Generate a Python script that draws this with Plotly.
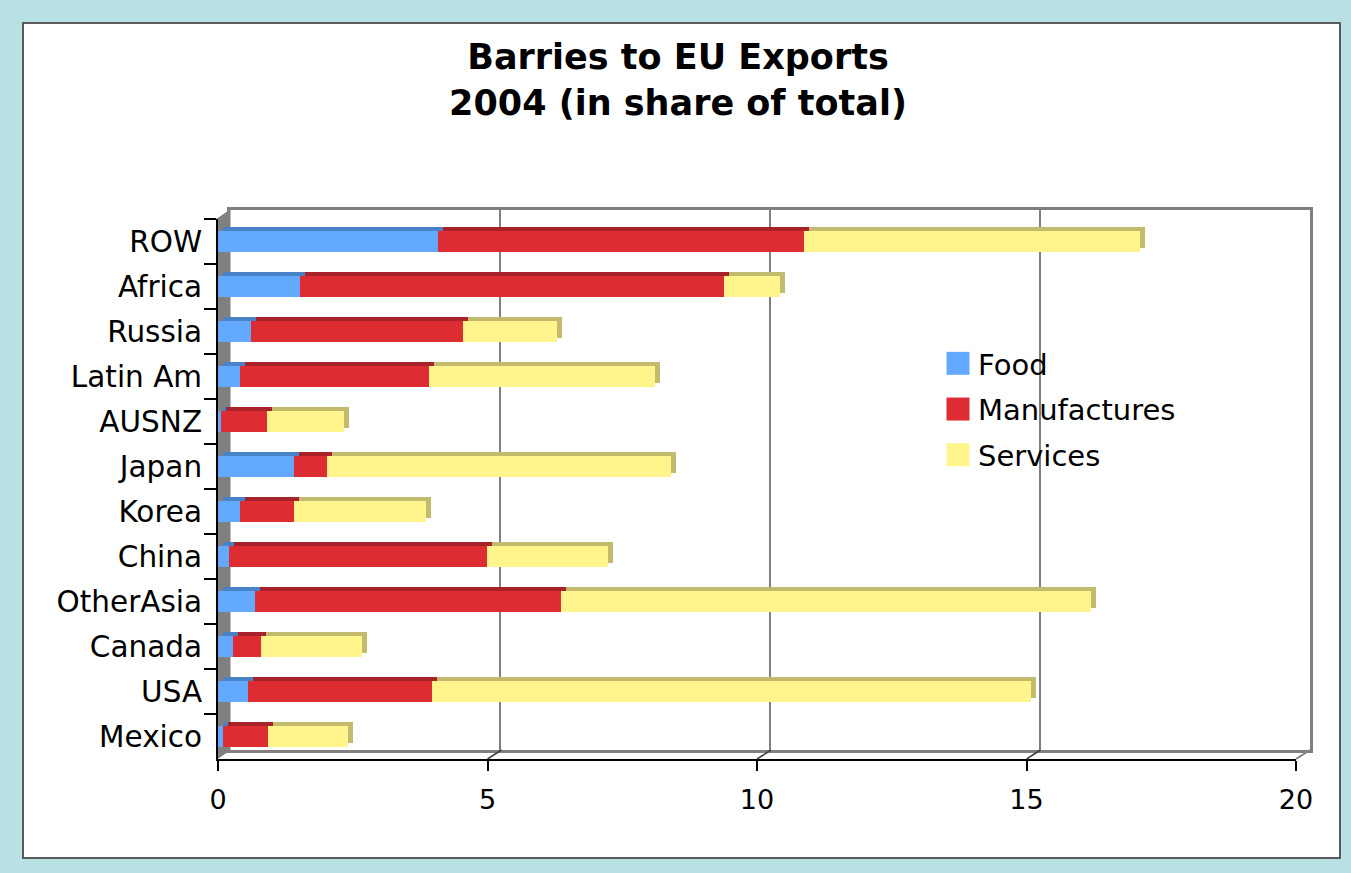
import plotly.graph_objects as go

regions = ["ROW", "Africa", "Russia", "Latin Am", "AUSNZ", "Japan", "Korea",
           "China", "OtherAsia", "Canada", "USA", "Mexico"]
food = [4.08, 1.52, 0.62, 0.40, 0.06, 1.41, 0.40, 0.21, 0.69, 0.28, 0.56, 0.10]
manufactures = [6.79, 7.87, 3.93, 3.51, 0.85, 0.61, 1.01, 4.78, 5.67, 0.52, 3.41, 0.83]
services = [6.23, 1.04, 1.74, 4.19, 1.43, 6.38, 2.45, 2.25, 9.83, 1.88, 11.12, 1.49]
x_ticks = [0, 5, 10, 15, 20]

series = [("Food", food, "#62A9FF", "#4A82C8"),
          ("Manufactures", manufactures, "#DE2C33", "#A8222A"),
          ("Services", services, "#FFF58C", "#C2BA6C")]

W, H = 1351, 873
L, R, T, B = 217, 1310, 210, 762   # plot area in pixels
PW, PH = R - L, B - T


def px(xp):
    return (xp - L) / PW


def py(yp):
    return (B - yp) / PH


fig = go.Figure()

# back-wall grid subplot (xy)
fig.add_trace(go.Scatter(x=[None], y=[None], xaxis="x", yaxis="y",
                         showlegend=False, hoverinfo="skip"))

# shadow (3D top/side faces) subplot (x2y2)
for name, vals, col, dark in series:
    fig.add_trace(go.Bar(y=regions, x=vals, orientation="h", name=name,
                         marker=dict(color=dark, line=dict(width=0)),
                         xaxis="x2", yaxis="y2", showlegend=False,
                         hoverinfo="skip"))

# main bars subplot (x3y3)
for i, (name, vals, col, dark) in enumerate(series):
    fig.add_trace(go.Bar(y=regions, x=vals, orientation="h", name=name,
                         marker=dict(color=col, line=dict(width=0)),
                         xaxis="x3", yaxis="y3", legendgroup=name))

font_family = "DejaVu Sans"

shapes = [
    # white inner panel
    dict(type="rect", xref="paper", yref="paper", layer="below",
         x0=px(23), x1=px(1340), y0=py(858), y1=py(23),
         fillcolor="white", line=dict(color="#5A5A5A", width=2)),
    # left wall
    dict(type="path", xref="paper", yref="paper", layer="below",
         path=f"M {px(217)} {py(759)} L {px(217)} {py(219)} L {px(230)} {py(210)} "
              f"L {px(230)} {py(750)} Z",
         fillcolor="#808080", line=dict(color="#808080", width=1)),
    # right floor edge
    dict(type="line", xref="paper", yref="paper",
         x0=px(1296), y0=py(759), x1=px(1310), y1=py(750),
         line=dict(color="#808080", width=2)),
]
for v in x_ticks[1:-1]:
    xf = 218 + v * 53.9
    shapes.append(dict(type="line", xref="paper", yref="paper",
                       x0=px(xf), y0=py(759), x1=px(xf + 14), y1=py(750),
                       line=dict(color="#404040", width=1.5)))

fig.update_layout(
    width=W, height=H,
    margin=dict(l=L, r=W - R, t=T, b=H - B, pad=0),
    paper_bgcolor="#B9E0E3",
    plot_bgcolor="rgba(0,0,0,0)",
    barmode="stack",
    bargap=0.55,
    font=dict(family=font_family, color="black", size=29),
    title=dict(text="<b>Barries to EU Exports<br>2004 (in share of total)</b>",
               x=678 / W, xanchor="center",
               y=1 - 69 / H, yanchor="middle", yref="container",
               font=dict(family=font_family, size=35, color="black")),
    xaxis=dict(domain=[px(230), px(1310)], range=[0, 20], anchor="y",
               tickvals=x_ticks, showticklabels=False, ticks="",
               showgrid=True, gridcolor="#808080", gridwidth=2,
               zeroline=False, showline=True, linecolor="#808080",
               linewidth=3, mirror=True, fixedrange=True),
    yaxis=dict(domain=[py(750), py(210)], range=[0, 1], anchor="x",
               showticklabels=False, ticks="", showgrid=False,
               zeroline=False, showline=True, linecolor="#808080",
               linewidth=3, mirror=True, fixedrange=True),
    xaxis2=dict(domain=[px(223), px(223 + 1078)], range=[0, 20], anchor="y2",
                visible=False, fixedrange=True),
    yaxis2=dict(domain=[py(755), py(215)], anchor="x2", visible=False,
                type="category", categoryorder="array", categoryarray=regions,
                autorange="reversed", fixedrange=True),
    xaxis3=dict(domain=[px(218), px(1296)], range=[0, 20], anchor="y3",
                tickvals=x_ticks, ticks="outside", ticklen=10, tickwidth=2,
                tickcolor="black", showgrid=False, zeroline=False,
                showline=True, linecolor="black", linewidth=2,
                ticklabelstandoff=6,
                tickfont=dict(size=27), fixedrange=True),
    yaxis3=dict(domain=[py(759), py(219)], anchor="x3", type="category",
                categoryorder="array", categoryarray=regions,
                autorange="reversed", ticks="outside", ticklen=12,
                tickwidth=2, tickcolor="black", tickson="boundaries",
                showgrid=False, zeroline=False, showline=True,
                linecolor="black", linewidth=2, tickfont=dict(size=29.5),
                ticklabelstandoff=8, fixedrange=True),
    legend=dict(x=px(938), y=py(338), xanchor="left", yanchor="top",
                bgcolor="rgba(0,0,0,0)", traceorder="grouped",
                tracegroupgap=5, font=dict(size=29)),
    shapes=shapes,
    showlegend=True,
)

post = """
document.body.style.margin = '0';
document.body.style.overflow = 'hidden';
var gd = document.getElementById('{plot_id}');
function bigSwatches() {
  gd.querySelectorAll('.legend .legendpoints path').forEach(function (p) {
    p.setAttribute('d', 'M11.5,11.5H-11.5V-11.5H11.5Z');
  });
}
bigSwatches();
gd.on('plotly_afterplot', bigSwatches);
"""

fig.write_html("out.html", post_script=post,
               config={"displayModeBar": False, "staticPlot": False})
